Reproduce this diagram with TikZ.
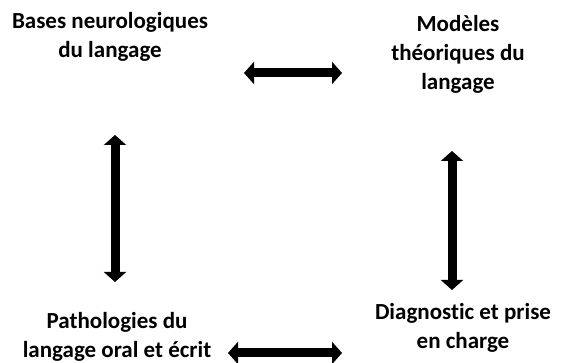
\documentclass[tikz,border=0pt]{standalone}
\usepackage{fontspec}
\setmainfont[Ligatures={NoCommon}]{Carlito}
\usetikzlibrary{arrows.meta}
\begin{document}
\begin{tikzpicture}[x=1pt,y=1pt,
  lbl/.style={font=\bfseries\fontsize{23}{29}\selectfont, align=center, inner sep=0pt},
  dblarrow/.style={line width=9pt, {Triangle[width=22pt,length=10pt]}-{Triangle[width=22pt,length=10pt]}}]
\useasboundingbox (0,0) rectangle (563,363);
\node[lbl] (bases) at (110,326) {Bases neurologiques\\du langage};
\node[lbl] (modeles) at (458,309) {Modèles\\théoriques du\\langage};
\node[lbl] (patho) at (117,26) {Pathologies du\\langage oral et écrit};
\node[lbl] (diag) at (463,35) {Diagnostic et prise\\en charge};
\coordinate (t1) at (244,290);
\coordinate (t2) at (342,290);
\coordinate (b1) at (228,10);
\coordinate (b2) at (342,10);
\coordinate (l1) at (115,228);
\coordinate (l2) at (115,81);
\coordinate (r1) at (452,212);
\coordinate (r2) at (452,73);
\draw[dblarrow] (t1) -- (t2);
\draw[dblarrow] (b1) -- (b2);
\draw[dblarrow] (l1) -- (l2);
\draw[dblarrow] (r1) -- (r2);
\end{tikzpicture}
\end{document}
